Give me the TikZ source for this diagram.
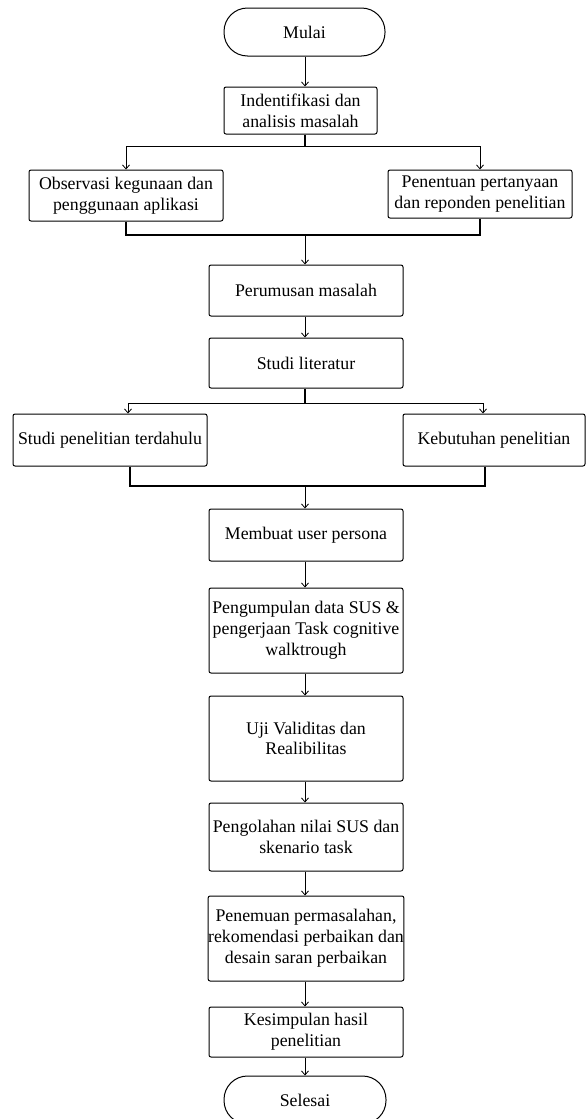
\documentclass[tikz,border=0pt]{standalone}
\usepackage{fontspec}
\setmainfont{Liberation Serif}
\usetikzlibrary{arrows.meta}
\begin{document}
\begin{tikzpicture}[x=1pt,y=-1pt,
  box/.style={draw, rounded corners=2pt, line width=1pt, align=center, inner sep=0pt,
    font=\fontsize{17.8}{20.8}\selectfont},
  term/.style={box, rounded corners=23.5pt},
  arr/.style={-{Straight Barb[length=4pt,width=7pt]}, line width=0.8pt},
  ln/.style={line width=1.15pt}]
\clip (0,0) rectangle (586,1119);
\fill[white] (0,0) rectangle (586,1119);

\node[term, minimum width=161pt, minimum height=48pt] (start) at (304.5,32) {Mulai};
\node[box, minimum width=153pt, minimum height=47pt] (ident) at (300.5,110.5) {Indentifikasi dan\\analisis masalah};
\node[box, minimum width=194pt, minimum height=51pt] (obs) at (126,195.5) {Observasi kegunaan dan\\penggunaan aplikasi};
\node[box, minimum width=184pt, minimum height=48pt] (pen) at (480,194) {Penentuan pertanyaan\\dan reponden penelitian};
\node[box, minimum width=194pt, minimum height=51pt] (rum) at (306,290.5) {Perumusan masalah};
\node[box, minimum width=194pt, minimum height=50pt] (lit) at (306,363) {Studi literatur};
\node[box, minimum width=194pt, minimum height=52pt] (spt) at (110,440) {Studi penelitian terdahulu};
\node[box, minimum width=182pt, minimum height=52pt] (keb) at (494,440) {Kebutuhan penelitian};
\node[box, minimum width=194pt, minimum height=52pt] (per) at (306,535) {Membuat user persona};
\node[box, minimum width=194pt, minimum height=85pt] (kum) at (306,630.5) {Pengumpulan data SUS \&\\pengerjaan Task cognitive\\walktrough};
\node[box, minimum width=194pt, minimum height=85pt] (uji) at (306,738.5) {Uji Validitas dan\\Realibilitas};
\node[box, minimum width=194pt, minimum height=68pt] (olah) at (306,837) {Pengolahan nilai SUS dan\\skenario task};
\node[box, minimum width=194pt, minimum height=85pt] (temu) at (306,938.5) {Penemuan permasalahan,\\rekomendasi perbaikan dan\\desain saran perbaikan};
\node[box, minimum width=194pt, minimum height=50pt] (simp) at (306,1032) {Kesimpulan hasil\\penelitian};
\node[term, minimum width=162pt, minimum height=48pt] (end) at (305,1100) {Selesai};

\coordinate (b1) at (305,146);
\coordinate (m1) at (305,235);
\coordinate (b2) at (305,403);
\coordinate (m2) at (305,486);

\draw[arr] (start.south -| b1) -- (b1 |- ident.north);
\draw[ln] (ident.south -| b1) -- (b1);
\draw[arr] (b1) -| (obs.north);
\draw[arr] (b1) -| (pen.north);
\draw[ln] (obs.south) |- (m1);
\draw[ln] (pen.south) |- (m1);
\draw[arr] (m1) -- (m1 |- rum.north);
\draw[arr] (rum.south -| m1) -- (m1 |- lit.north);
\draw[ln] (lit.south -| b2) -- (b2);
\draw[arr] (b2) -| ([xshift=18pt]spt.north);
\draw[arr] (b2) -| ([xshift=-11pt]keb.north);
\draw[ln] ([xshift=20pt]spt.south) |- (m2);
\draw[ln] ([xshift=-9pt]keb.south) |- (m2);
\draw[arr] (m2) -- (m2 |- per.north);
\draw[arr] (per.south -| m2) -- (m2 |- kum.north);
\draw[arr] (kum.south -| m2) -- (m2 |- uji.north);
\draw[arr] (uji.south -| m2) -- (m2 |- olah.north);
\draw[arr] (olah.south -| m2) -- (m2 |- temu.north);
\draw[arr] (temu.south -| m2) -- (m2 |- simp.north);
\draw[arr] (simp.south -| m2) -- (m2 |- end.north);
\end{tikzpicture}
\end{document}
